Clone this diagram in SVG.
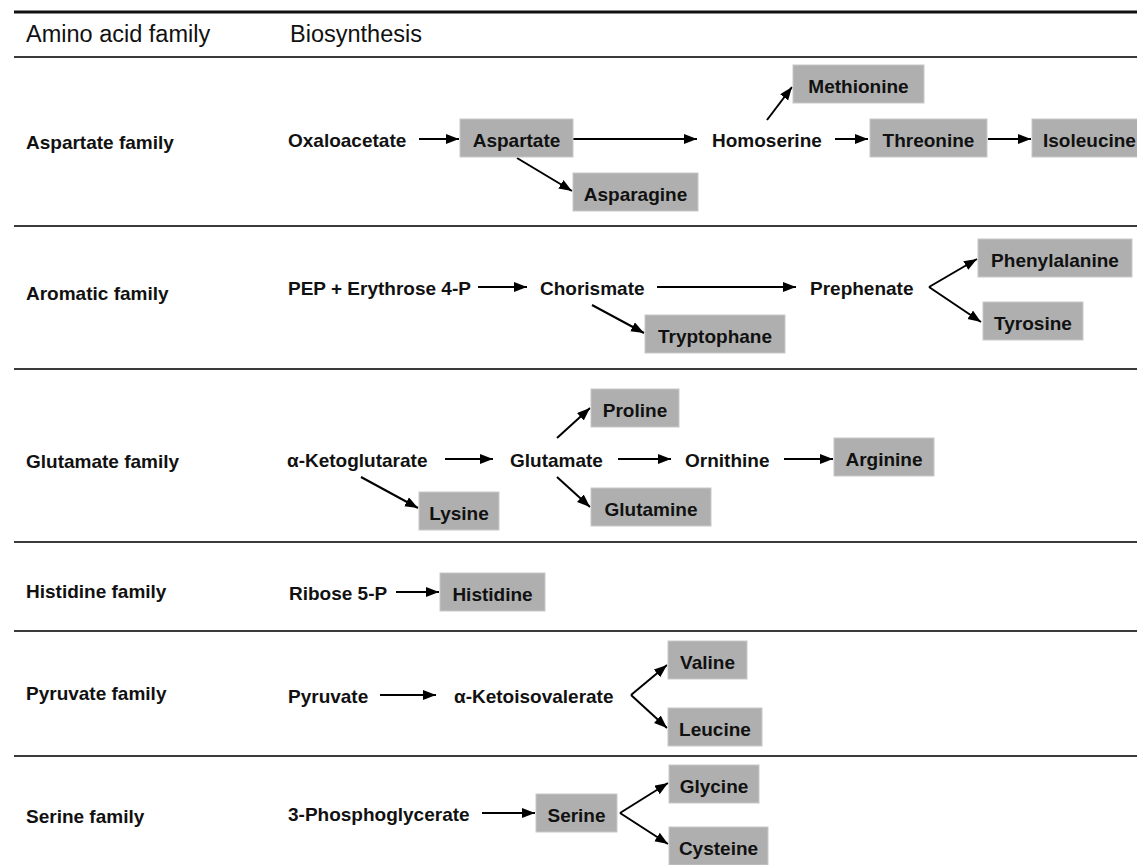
<svg xmlns="http://www.w3.org/2000/svg" width="1137" height="865" viewBox="0 0 1137 865">
<style>
text{font-family:"Liberation Sans",Arial,sans-serif;fill:#111}
.h{font-size:23.5px}
.b{font-size:19px;font-weight:bold}
.c{text-anchor:middle}
.box{fill:#afafaf;stroke:#c8c8c8;stroke-width:1}
.sep{stroke:#3a3a3a;stroke-width:2}
.arr{stroke:#000;stroke-width:2;fill:none;marker-end:url(#ah)}
</style>
<defs>
<marker id="ah" markerUnits="userSpaceOnUse" markerWidth="15" markerHeight="11" refX="13" refY="5" orient="auto">
<path d="M0,0 L13,5 L0,10 z" fill="#000"/>
</marker>
</defs>
<rect width="1137" height="865" fill="#fff"/>
<g id="table-lines">
<line x1="14" y1="12" x2="1137" y2="12" stroke="#111" stroke-width="3"/>
<line class="sep" x1="14" y1="57" x2="1137" y2="57"/>
<line class="sep" x1="14" y1="226" x2="1137" y2="226"/>
<line class="sep" x1="14" y1="369" x2="1137" y2="369"/>
<line class="sep" x1="14" y1="542" x2="1137" y2="542"/>
<line class="sep" x1="14" y1="631" x2="1137" y2="631"/>
<line class="sep" x1="14" y1="756" x2="1137" y2="756"/>
</g>
<g id="header">
<text class="h" x="26" y="42">Amino acid family</text>
<text class="h" x="290" y="42">Biosynthesis</text>
</g>
<g id="row-labels">
<text class="b" x="26" y="149">Aspartate family</text>
<text class="b" x="26" y="300">Aromatic family</text>
<text class="b" x="26" y="468">Glutamate family</text>
<text class="b" x="26" y="598">Histidine family</text>
<text class="b" x="26" y="700">Pyruvate family</text>
<text class="b" x="26" y="823">Serine family</text>
</g>
<g id="connectors">
<line class="arr" x1="419" y1="139" x2="459" y2="139"/>
<line class="arr" x1="573" y1="139" x2="697" y2="139"/>
<line class="arr" x1="835" y1="139" x2="868" y2="139"/>
<line class="arr" x1="988" y1="139" x2="1031" y2="139"/>
<line class="arr" x1="517" y1="158" x2="572" y2="191"/>
<line class="arr" x1="767" y1="120" x2="792" y2="87"/>
<line class="arr" x1="478" y1="287" x2="527" y2="287"/>
<line class="arr" x1="657" y1="287" x2="796" y2="287"/>
<line class="arr" x1="592" y1="305" x2="644" y2="333"/>
<line class="arr" x1="929" y1="287" x2="977" y2="259"/>
<line class="arr" x1="929" y1="287" x2="981" y2="322"/>
<line class="arr" x1="445" y1="459" x2="493" y2="459"/>
<line class="arr" x1="618" y1="459" x2="671" y2="459"/>
<line class="arr" x1="784" y1="459" x2="833" y2="459"/>
<line class="arr" x1="557" y1="438" x2="590" y2="408"/>
<line class="arr" x1="361" y1="477" x2="418" y2="508"/>
<line class="arr" x1="557" y1="477" x2="590" y2="507"/>
<line class="arr" x1="396" y1="592" x2="439" y2="592"/>
<line class="arr" x1="380" y1="695" x2="436" y2="695"/>
<line class="arr" x1="631" y1="695" x2="667" y2="665"/>
<line class="arr" x1="631" y1="695" x2="667" y2="728"/>
<line class="arr" x1="482" y1="813" x2="535" y2="813"/>
<line class="arr" x1="620" y1="813" x2="668" y2="783"/>
<line class="arr" x1="620" y1="813" x2="668" y2="844"/>
</g>
<g id="aspartate-row">
<g id="n-oxaloacetate"><text class="b" x="288" y="147">Oxaloacetate</text></g>
<g id="n-aspartate"><rect class="box" x="460" y="119" width="113" height="38"/><text class="b c" x="516.5" y="147">Aspartate</text></g>
<g id="n-homoserine"><text class="b" x="712" y="147">Homoserine</text></g>
<g id="n-threonine"><rect class="box" x="870" y="119" width="117" height="38"/><text class="b c" x="928.5" y="147">Threonine</text></g>
<g id="n-isoleucine"><rect class="box" x="1032" y="119" width="110" height="38"/><text class="b" x="1043" y="147">Isoleucine</text></g>
<g id="n-methionine"><rect class="box" x="793" y="65" width="131" height="38"/><text class="b c" x="858.5" y="93">Methionine</text></g>
<g id="n-asparagine"><rect class="box" x="573" y="173" width="125" height="38"/><text class="b c" x="635.5" y="201">Asparagine</text></g>
</g>
<g id="aromatic-row">
<g id="n-pep"><text class="b" x="288" y="295">PEP + Erythrose 4-P</text></g>
<g id="n-chorismate"><text class="b" x="540" y="295">Chorismate</text></g>
<g id="n-prephenate"><text class="b" x="810" y="295">Prephenate</text></g>
<g id="n-tryptophane"><rect class="box" x="645" y="315" width="140" height="38"/><text class="b c" x="715" y="343">Tryptophane</text></g>
<g id="n-phenylalanine"><rect class="box" x="978" y="239" width="154" height="38"/><text class="b c" x="1055" y="267">Phenylalanine</text></g>
<g id="n-tyrosine"><rect class="box" x="983" y="302" width="100" height="38"/><text class="b c" x="1033" y="330">Tyrosine</text></g>
</g>
<g id="glutamate-row">
<g id="n-ketoglutarate"><text class="b" x="287" y="467">α-Ketoglutarate</text></g>
<g id="n-glutamate"><text class="b" x="510" y="467">Glutamate</text></g>
<g id="n-ornithine"><text class="b" x="685" y="467">Ornithine</text></g>
<g id="n-proline"><rect class="box" x="591" y="389" width="88" height="38"/><text class="b c" x="635" y="417">Proline</text></g>
<g id="n-arginine"><rect class="box" x="834" y="438" width="100" height="38"/><text class="b c" x="884" y="466">Arginine</text></g>
<g id="n-glutamine"><rect class="box" x="591" y="488" width="120" height="38"/><text class="b c" x="651" y="516">Glutamine</text></g>
<g id="n-lysine"><rect class="box" x="419" y="492" width="80" height="38"/><text class="b c" x="459" y="520">Lysine</text></g>
</g>
<g id="histidine-row">
<g id="n-ribose"><text class="b" x="289" y="600">Ribose 5-P</text></g>
<g id="n-histidine"><rect class="box" x="440" y="573" width="105" height="38"/><text class="b c" x="492.5" y="601">Histidine</text></g>
</g>
<g id="pyruvate-row">
<g id="n-pyruvate"><text class="b" x="288" y="703">Pyruvate</text></g>
<g id="n-ketoisovalerate"><text class="b" x="454" y="703">α-Ketoisovalerate</text></g>
<g id="n-valine"><rect class="box" x="668" y="641" width="79" height="38"/><text class="b c" x="707.5" y="669">Valine</text></g>
<g id="n-leucine"><rect class="box" x="668" y="708" width="94" height="38"/><text class="b c" x="715" y="736">Leucine</text></g>
</g>
<g id="serine-row">
<g id="n-phosphoglycerate"><text class="b" x="288" y="821">3-Phosphoglycerate</text></g>
<g id="n-serine"><rect class="box" x="536" y="794" width="81" height="38"/><text class="b c" x="576.5" y="822">Serine</text></g>
<g id="n-glycine"><rect class="box" x="669" y="765" width="90" height="38"/><text class="b c" x="714" y="793">Glycine</text></g>
<g id="n-cysteine"><rect class="box" x="669" y="827" width="99" height="38"/><text class="b c" x="718.5" y="855">Cysteine</text></g>
</g>
</svg>
